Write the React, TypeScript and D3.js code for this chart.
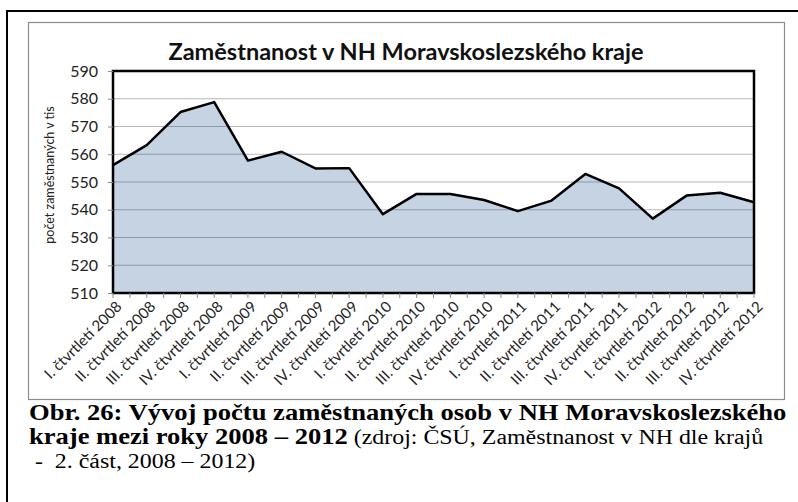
import React, { useRef, useEffect } from "react";
import * as d3 from "d3";

const quarters = ["I.", "II.", "III.", "IV."];
const years = ["2008", "2009", "2010", "2011", "2012"];
const categories = years.flatMap((y) => quarters.map((q) => `${q} čtvrtletí ${y}`));
const employed = [
  556.1, 563.3, 575.2, 578.8, 557.7, 560.9, 554.9, 555.0, 538.4, 545.7,
  545.7, 543.5, 539.5, 543.3, 552.9, 547.7, 536.8, 545.1, 546.1, 542.7,
];
const yTicks = [510, 520, 530, 540, 550, 560, 570, 580, 590];
const chartTitle = "Zaměstnanost v NH Moravskoslezského kraje";
const yTitle = "počet zaměstnaných v tis";

const W = 798;
const H = 502;
const plot = { left: 113, right: 754, top: 71, bottom: 293 };
const sans = "Lato, 'Noto Sans', sans-serif";
const serif = "'Liberation Serif', 'Times New Roman', serif";

function App() {
  const svgRef = useRef<SVGSVGElement>(null);

  useEffect(() => {
    const svg = d3.select(svgRef.current);
    svg.selectAll("*").remove();

    // outer frame of the figure
    svg.append("path")
      .attr("d", `M7,${H + 5} L7,11 L${W + 5},11`)
      .attr("fill", "none")
      .attr("stroke", "#000")
      .attr("stroke-width", 2);

    // chart area box
    svg.append("rect")
      .attr("x", 28.5).attr("y", 22.5)
      .attr("width", 756).attr("height", 377)
      .attr("fill", "#fff")
      .attr("stroke", "#8c8c8c")
      .attr("stroke-width", 1.2);

    const x = d3.scalePoint<string>()
      .domain(categories)
      .range([plot.left, plot.right]);
    const y = d3.scaleLinear().domain([510, 590]).range([plot.bottom, plot.top]);

    // grid under the area (white part)
    svg.append("g")
      .selectAll("line")
      .data(yTicks)
      .join("line")
      .attr("x1", plot.left).attr("x2", plot.right)
      .attr("y1", (d) => y(d)).attr("y2", (d) => y(d))
      .attr("stroke", "#b8b8b8")
      .attr("stroke-width", 1.2);

    const area = d3.area<number>()
      .x((d, i) => x(categories[i]) as number)
      .y0(y(510))
      .y1((d) => y(d));
    svg.append("path")
      .datum(employed)
      .attr("d", area)
      .attr("fill", "#c6d3e3");

    // grid lines showing through the area
    const clipId = "areaClip";
    svg.append("clipPath").attr("id", clipId)
      .append("path").datum(employed).attr("d", area);
    svg.append("g")
      .attr("clip-path", `url(#${clipId})`)
      .selectAll("line")
      .data(yTicks)
      .join("line")
      .attr("x1", plot.left).attr("x2", plot.right)
      .attr("y1", (d) => y(d)).attr("y2", (d) => y(d))
      .attr("stroke", "#8e99a8")
      .attr("stroke-width", 1.2);

    const line = d3.line<number>()
      .x((d, i) => x(categories[i]) as number)
      .y((d) => y(d));
    svg.append("path")
      .datum(employed)
      .attr("d", line)
      .attr("fill", "none")
      .attr("stroke", "#000")
      .attr("stroke-width", 2.5)
      .attr("stroke-linejoin", "round");

    // plot area frame
    svg.append("rect")
      .attr("x", plot.left).attr("y", plot.top)
      .attr("width", plot.right - plot.left)
      .attr("height", plot.bottom - plot.top)
      .attr("fill", "none")
      .attr("stroke", "#000")
      .attr("stroke-width", 2.5);

    // y axis
    const yAxis = d3.axisLeft(y).tickValues(yTicks).tickSize(5).tickPadding(10);
    const gy = svg.append("g")
      .attr("transform", `translate(${plot.left},0)`)
      .call(yAxis);
    gy.select(".domain").remove();
    gy.selectAll(".tick line").attr("stroke", "#8c8c8c");
    gy.selectAll(".tick text")
      .attr("font-family", sans)
      .attr("font-size", 16)
      .attr("fill", "#222");

    // x axis ticks at points and between them
    const step = x.step();
    const tickPos = d3.range(categories.length * 2 - 1).map((i) => plot.left + (i * step) / 2);
    svg.append("g")
      .selectAll("line")
      .data(tickPos)
      .join("line")
      .attr("x1", (d) => d).attr("x2", (d) => d)
      .attr("y1", plot.bottom).attr("y2", plot.bottom + 5)
      .attr("stroke", "#8c8c8c");

    svg.append("g")
      .selectAll("text")
      .data(categories)
      .join("text")
      .attr("transform", (d) => `translate(${(x(d) as number) + 6},${plot.bottom + 11}) rotate(-45)`)
      .attr("text-anchor", "end")
      .attr("dy", "0.35em")
      .attr("font-family", sans)
      .attr("font-size", 15)
      .attr("fill", "#222")
      .text((d) => d);

    svg.append("text")
      .attr("transform", `translate(54,175) rotate(-90)`)
      .attr("text-anchor", "middle")
      .attr("font-family", sans)
      .attr("font-size", 12.5)
      .attr("fill", "#222")
      .text(yTitle);

    svg.append("text")
      .attr("x", 406).attr("y", 60)
      .attr("text-anchor", "middle")
      .attr("font-family", sans)
      .attr("font-weight", "bold")
      .attr("font-size", 23.5)
      .attr("fill", "#111")
      .text(chartTitle);

    // caption (slightly widened, as in the source document)
    const cap = svg.append("g")
      .attr("transform", "translate(29,0) scale(1.107,1)")
      .attr("font-family", serif)
      .attr("font-size", 24)
      .attr("fill", "#000");
    cap.append("text").attr("x", 0).attr("y", 420)
      .attr("font-weight", "bold")
      .text("Obr. 26: Vývoj počtu zaměstnaných osob v NH Moravskoslezského");
    const l2 = cap.append("text").attr("x", 0).attr("y", 444);
    l2.append("tspan").attr("font-weight", "bold").text("kraje mezi roky 2008 – 2012");
    l2.append("tspan").attr("font-size", 21.6).text(" (zdroj: ČSÚ, Zaměstnanost v NH dle krajů");
    cap.append("text").attr("x", 0).attr("y", 468)
      .attr("font-size", 21.6)
      .attr("xml:space", "preserve")
      .text(" -  2. část, 2008 – 2012)");
  }, []);

  return (
    <svg
      ref={svgRef}
      width={W}
      height={H}
      style={{ position: "absolute", left: 0, top: 0, background: "#fff" }}
    />
  );
}

export default App;
